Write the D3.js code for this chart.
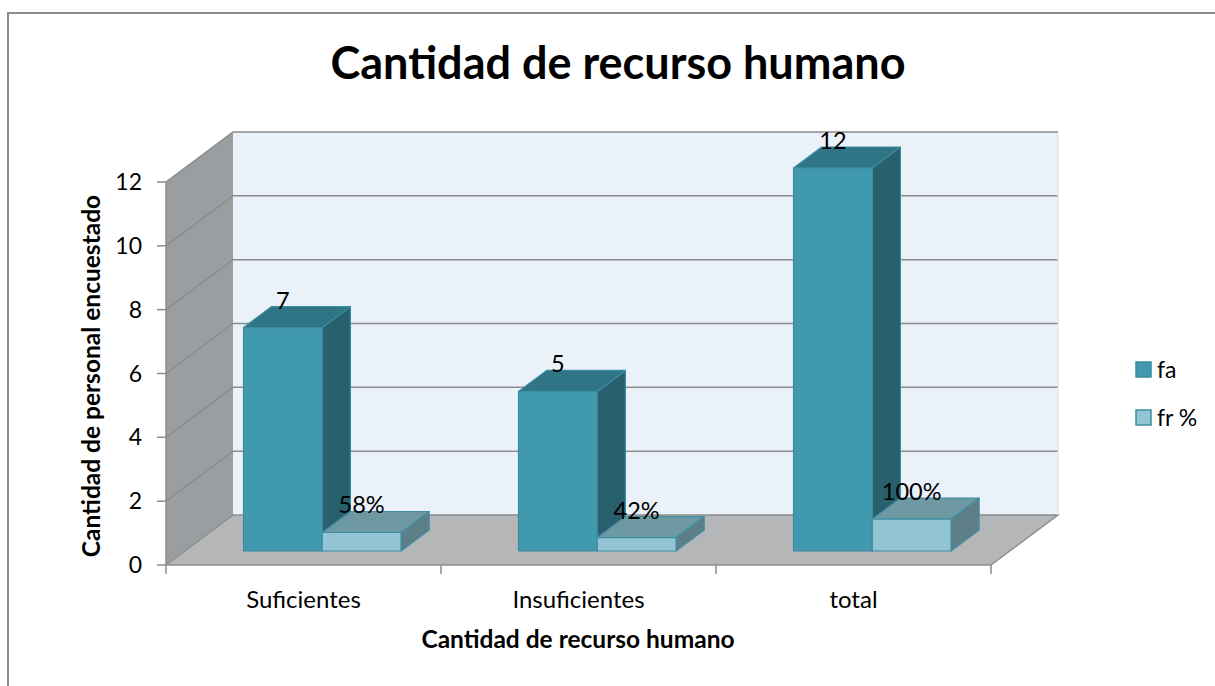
<!DOCTYPE html>
<html>
<head>
<meta charset="utf-8">
<script src="https://cdn.jsdelivr.net/npm/d3@7"></script>
<style>
  body { margin: 0; background: #fff; }
  text { font-family: Lato, "Open Sans", sans-serif; }
</style>
</head>
<body>
<div id="chart"></div>
<script>
// datos del grafico
var categories = ["Suficientes", "Insuficientes", "total"];
var seriesNames = ["fa", "fr %"];
var faValues = [7, 5, 12];
var frValues = [0.58, 0.42, 1.0];
var faLabels = ["7", "5", "12"];
var frLabels = ["58%", "42%", "100%"];
var yTicks = [0, 2, 4, 6, 8, 10, 12];

var width = 1215, height = 686;

var svg = d3.select("#chart").append("svg")
  .attr("width", width)
  .attr("height", height);

// marco exterior
svg.append("rect")
  .attr("x", 8).attr("y", 13)
  .attr("width", 1230).attr("height", 700)
  .attr("fill", "#fff")
  .attr("stroke", "#8c8c8c")
  .attr("stroke-width", 2);

// escalas (plano frontal) + desplazamiento de profundidad
var x = d3.scaleBand().domain(categories).range([166, 991]);
var y = d3.scaleLinear().domain([0, 12]).range([565, 182]);
var xs = d3.scaleBand().domain(seriesNames).range([0, x.bandwidth()])
  .paddingInner(0).paddingOuter(0.746);
var DX = 67, DY = -50;
var z0 = 0.28, z1 = 0.70;   // profundidad de las barras

function proj(px, v, z) { return [px + z * DX, y(v) + z * DY]; }
function poly(pts) { return pts.map(function(p){ return proj(p[0], p[1], p[2]).join(","); }).join(" "); }

var x0 = x.range()[0], x1 = x.range()[1];

// pared izquierda
svg.append("polygon")
  .attr("points", poly([[x0, 0, 0], [x0, 12, 0], [x0, 12, 1], [x0, 0, 1]]))
  .attr("fill", "#9b9ea0");
// pared del fondo
svg.append("polygon")
  .attr("points", poly([[x0, 0, 1], [x0, 12, 1], [x1, 12, 1], [x1, 0, 1]]))
  .attr("fill", "#eaf1f8");
// piso
svg.append("polygon")
  .attr("points", poly([[x0, 0, 0], [x0, 0, 1], [x1, 0, 1], [x1, 0, 0]]))
  .attr("fill", "#b4b6b8");

// lineas de cuadricula
var grid = svg.append("g").attr("stroke", "#8c8c8c").attr("stroke-width", 1.5).attr("fill", "none");
yTicks.filter(function(d){ return d > 0; }).forEach(function(v) {
  grid.append("polyline")
    .attr("points", poly([[x0, v, 0], [x0, v, 1], [x1, v, 1]]));
});
grid.append("polyline").attr("points", poly([[x0, 0, 0], [x0, 0, 1], [x1, 0, 1], [x1, 0, 0]]));
grid.append("line")
  .attr("x1", proj(x1, 0, 1)[0]).attr("y1", proj(x1, 0, 1)[1])
  .attr("x2", proj(x1, 12, 1)[0]).attr("y2", proj(x1, 12, 1)[1])
  .attr("stroke", "#d8dde2").attr("stroke-width", 1);

// eje Y
var axisG = svg.append("g").attr("stroke", "#8c8c8c").attr("stroke-width", 1.5);
axisG.append("line").attr("x1", x0).attr("x2", x0).attr("y1", y(0)).attr("y2", y(12));
yTicks.forEach(function(v) {
  axisG.append("line").attr("x1", x0 - 9).attr("x2", x0).attr("y1", y(v)).attr("y2", y(v));
});
svg.selectAll(".ytick").data(yTicks).enter().append("text")
  .attr("x", 142).attr("y", function(d){ return y(d); })
  .attr("dy", "0.35em")
  .attr("text-anchor", "end")
  .attr("font-size", 23)
  .attr("fill", "#000")
  .text(function(d){ return d; });

// eje X
axisG.append("line").attr("x1", x0).attr("x2", x1).attr("y1", y(0)).attr("y2", y(0));
x.domain().concat(["end"]).forEach(function(c, i) {
  var px = x0 + i * x.step();
  axisG.append("line").attr("x1", px).attr("x2", px).attr("y1", y(0)).attr("y2", y(0) + 9);
});
svg.selectAll(".xtick").data(categories).enter().append("text")
  .attr("x", function(d){ return x(d) + x.bandwidth() / 2; })
  .attr("y", 608)
  .attr("text-anchor", "middle")
  .attr("font-size", 24)
  .text(function(d){ return d; });

// barras
var colors = {
  "fa":   { front: "#4199b0", top: "#2f7585", side: "#28606e", stroke: "#3a8ca2" },
  "fr %": { front: "#93c4d4", top: "#6e98a2", side: "#5f7f88", stroke: "#3e8fa2" }
};

var bars = [];
categories.forEach(function(c, i) {
  bars.push({ cat: c, s: "fa", v: faValues[i], label: faLabels[i] });
  bars.push({ cat: c, s: "fr %", v: frValues[i], label: frLabels[i] });
});

bars.forEach(function(b) {
  var a = x(b.cat) + xs(b.s), e = a + xs.bandwidth();
  var col = colors[b.s];
  var g = svg.append("g").attr("stroke", col.stroke).attr("stroke-width", 1.2).attr("stroke-linejoin", "round");
  g.append("polygon").attr("fill", col.side)
    .attr("points", poly([[e, 0, z0], [e, 0, z1], [e, b.v, z1], [e, b.v, z0]]));
  g.append("polygon").attr("fill", col.top)
    .attr("points", poly([[a, b.v, z0], [e, b.v, z0], [e, b.v, z1], [a, b.v, z1]]));
  g.append("polygon").attr("fill", col.front)
    .attr("points", poly([[a, 0, z0], [e, 0, z0], [e, b.v, z0], [a, b.v, z0]]));
});

// etiquetas de datos
bars.forEach(function(b) {
  var a = x(b.cat) + xs(b.s);
  var p = proj(a + xs.bandwidth() / 2, b.v, z0);
  var pb = proj(a, b.v, z1);
  svg.append("text")
    .attr("x", p[0]).attr("y", pb[1] + 2)
    .attr("text-anchor", "middle")
    .attr("font-size", 23.5)
    .text(b.label);
});

// titulos
svg.append("text")
  .attr("x", 618).attr("y", 79)
  .attr("text-anchor", "middle")
  .attr("font-size", 45).attr("font-weight", "bold")
  .text("Cantidad de recurso humano");

svg.append("text")
  .attr("x", 578).attr("y", 648)
  .attr("text-anchor", "middle")
  .attr("font-size", 24.5).attr("font-weight", "bold")
  .text("Cantidad de recurso humano");

svg.append("text")
  .attr("transform", "translate(100,376) rotate(-90)")
  .attr("text-anchor", "middle")
  .attr("font-size", 24.5).attr("font-weight", "bold")
  .text("Cantidad de personal encuestado");

// leyenda
var legend = svg.selectAll(".legend").data(seriesNames).enter().append("g")
  .attr("transform", function(d, i){ return "translate(1136," + (362 + i * 48) + ")"; });
legend.append("rect")
  .attr("width", 15).attr("height", 15)
  .attr("fill", function(d){ return colors[d].front; })
  .attr("stroke", function(d){ return colors[d].stroke; })
  .attr("stroke-width", 1.5);
legend.append("text")
  .attr("x", 21).attr("y", 8).attr("dy", "0.35em")
  .attr("font-size", 23)
  .text(function(d){ return d; });
</script>
</body>
</html>
